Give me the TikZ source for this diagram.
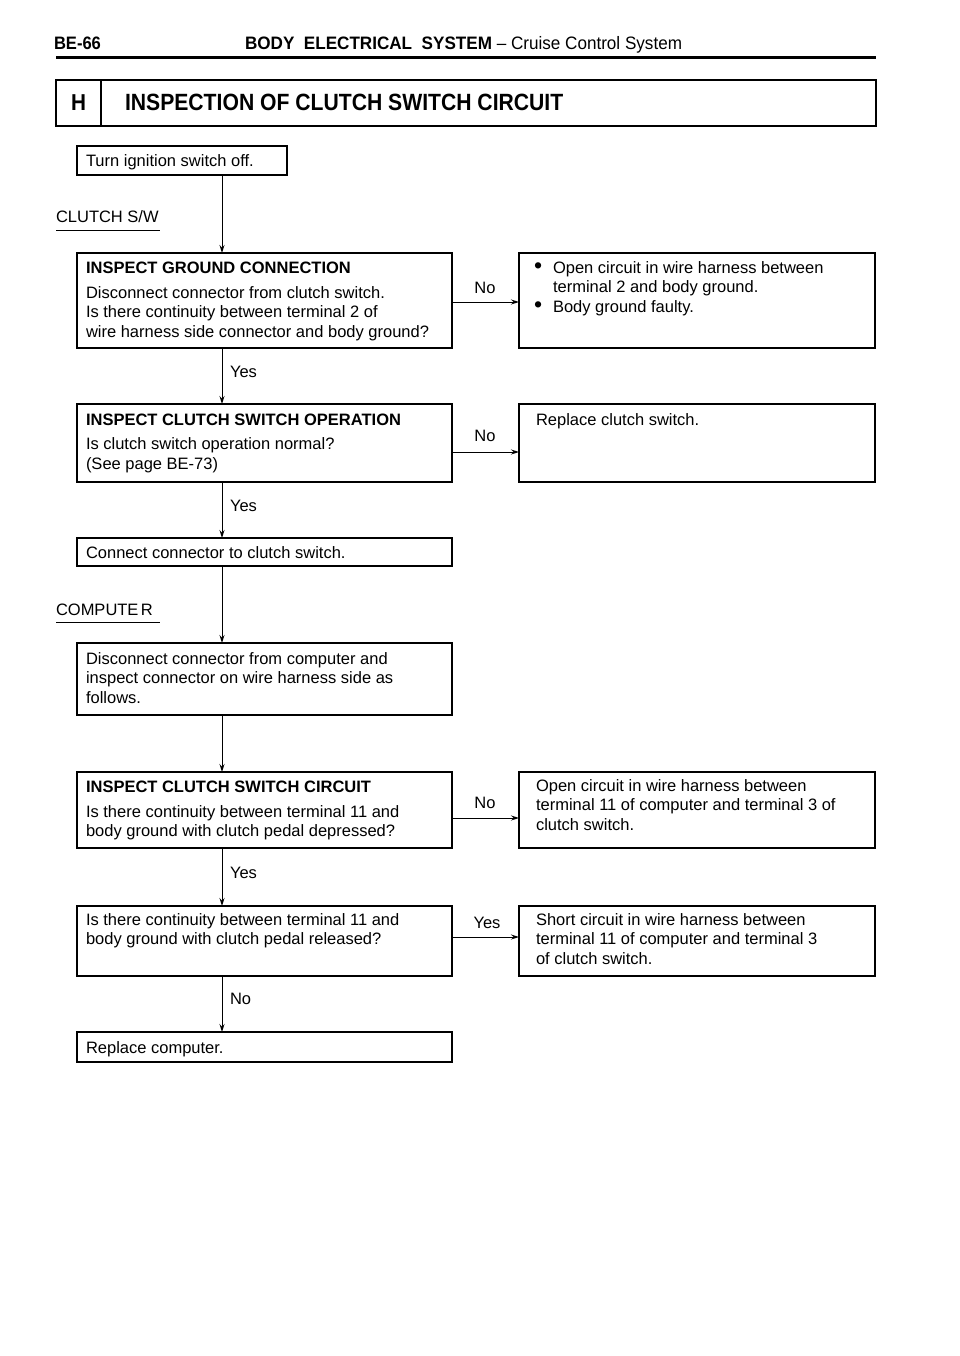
\documentclass[tikz,border=0pt]{standalone}
\usepackage{fontspec}
\setmainfont{Liberation Sans}
\usetikzlibrary{arrows.meta}
\begin{document}
\begin{tikzpicture}[x=1pt,y=-1pt,
  box/.style={draw, line width=1.2pt, inner sep=0pt, outer sep=0pt, anchor=north west},
  tx/.style={inner sep=0pt, outer sep=0pt, anchor=north west, align=left, font=\fontsize{16.5}{19.5}\selectfont},
  lbl/.style={inner sep=0pt, outer sep=0pt, font=\fontsize{16.5}{18}\selectfont},
  arr/.style={line width=1pt, -{Stealth[length=8pt,width=5pt]}}
]
\useasboundingbox (0,0) rectangle (960,1356);
\fill[white] (0,0) rectangle (960,1356);
\newcommand\bx[5]{\node[box, minimum width={#4-#2}, minimum height={#5-#3}] (#1) at (#2,#3) {};}
\newcommand\tx[4]{\node[tx] (#1) at (#2,#3-13) {\rule{0pt}{13pt}#4};}
\newcommand\bul{\makebox[19pt][l]{\raisebox{-0.5pt}{\scalebox{1.4}{\textbullet}}}}

% header
\node[lbl, anchor=base west, font=\fontsize{18}{20}\selectfont\bfseries] (pg) at (54,50) {\scalebox{0.92}[1]{BE-66}};
\node[lbl, anchor=base west, font=\fontsize{18}{20}\selectfont] (hd) at (245,50) {\scalebox{0.95}[1]{\textbf{BODY\ \ ELECTRICAL\ \ SYSTEM} -- Cruise Control System}};
\draw[line width=3pt] (56,58) -- (876,58);

% title
\bx{tb}{56}{80}{876}{126}
\draw[line width=1.2pt] (101,80) -- (101,126);
\node[lbl, anchor=base, font=\fontsize{23}{24}\selectfont\bfseries] (th) at (78.5,111) {\scalebox{0.9}[1]{H}};
\node[lbl, anchor=base west, font=\fontsize{23.5}{24}\selectfont\bfseries] (tt) at (125,111) {\scalebox{0.9}[1]{INSPECTION OF CLUTCH SWITCH CIRCUIT}};

% side labels
\node[lbl, anchor=base west] (cs) at (56,223) {CLUTCH S/W};
\draw[line width=0.8pt] (56,230) -- (160,230);
\node[lbl, anchor=base west] (cp) at (56,615) {COMPUTE\kern2.5pt R};
\draw[line width=0.8pt] (56,622) -- (160,622);

% boxes
\bx{b1}{77}{146}{287}{175}
\bx{b2}{77}{253}{452}{348}
\bx{r1}{519}{253}{875}{348}
\bx{b3}{77}{404}{452}{482}
\bx{r2}{519}{404}{875}{482}
\bx{b4}{77}{538}{452}{566}
\bx{b5}{77}{643}{452}{715}
\bx{b6}{77}{772}{452}{848}
\bx{r3}{519}{772}{875}{848}
\bx{b7}{77}{906}{452}{976}
\bx{r4}{519}{906}{875}{976}
\bx{b8}{77}{1032}{452}{1062}

% texts
\tx{t1}{86}{167}{Turn ignition switch off.}
\tx{t2}{86}{273}{\textbf{INSPECT GROUND CONNECTION}\\[5.5pt]Disconnect connector from clutch switch.\\Is there continuity between terminal 2 of\\wire harness side connector and body ground?}
\tx{u1}{534}{273}{\bul Open circuit in wire harness between\\\hspace*{19pt}terminal 2 and body ground.\\\bul Body ground faulty.}
\tx{t3}{86}{425}{\textbf{INSPECT CLUTCH SWITCH OPERATION}\\[5pt]Is clutch switch operation normal?\\(See page BE-73)}
\tx{u2}{536}{425}{Replace clutch switch.}
\tx{t4}{86}{558}{Connect connector to clutch switch.}
\tx{t5}{86}{664}{Disconnect connector from computer and\\inspect connector on wire harness side as\\follows.}
\tx{t6}{86}{792}{\textbf{INSPECT CLUTCH SWITCH CIRCUIT}\\[5.5pt]Is there continuity between terminal 11 and\\body ground with clutch pedal depressed?}
\tx{u3}{536}{791}{Open circuit in wire harness between\\terminal 11 of computer and terminal 3 of\\clutch switch.}
\tx{t7}{86}{925}{Is there continuity between terminal 11 and\\body ground with clutch pedal released?}
\tx{u4}{536}{925}{Short circuit in wire harness between\\terminal 11 of computer and terminal 3\\of clutch switch.}
\tx{t8}{86}{1053}{Replace computer.}

% connectors
\coordinate (vx) at (222,0);
\coordinate (h2) at (0,302);
\coordinate (h3) at (0,452);
\coordinate (h6) at (0,818);
\coordinate (h7) at (0,937);
\draw[arr] (b1.south -| vx) -- (b2.north -| vx);
\draw[arr] (b2.south -| vx) -- (b3.north -| vx);
\draw[arr] (b3.south -| vx) -- (b4.north -| vx);
\draw[arr] (b4.south -| vx) -- (b5.north -| vx);
\draw[arr] (b5.south -| vx) -- (b6.north -| vx);
\draw[arr] (b6.south -| vx) -- (b7.north -| vx);
\draw[arr] (b7.south -| vx) -- (b8.north -| vx);
\draw[arr] (b2.east |- h2) -- (r1.west |- h2);
\draw[arr] (b3.east |- h3) -- (r2.west |- h3);
\draw[arr] (b6.east |- h6) -- (r3.west |- h6);
\draw[arr] (b7.east |- h7) -- (r4.west |- h7);

% labels
\node[lbl, anchor=base west] (y1) at (230,377) {Yes};
\node[lbl, anchor=base west] (y2) at (230,511) {Yes};
\node[lbl, anchor=base west] (y3) at (230,878) {Yes};
\node[lbl, anchor=base west] (n4) at (230,1004) {No};
\node[lbl, anchor=base] (n1) at (485,293) {No};
\node[lbl, anchor=base] (n2) at (485,441) {No};
\node[lbl, anchor=base] (n3) at (485,808) {No};
\node[lbl, anchor=base] (y4) at (487,928) {Yes};
\end{tikzpicture}
\end{document}
